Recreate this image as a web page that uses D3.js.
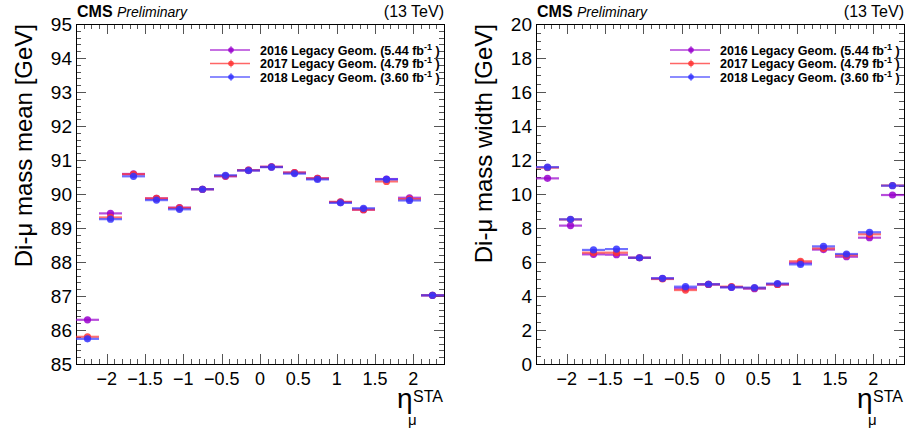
<!DOCTYPE html>
<html><head><meta charset="utf-8">
<script src="https://cdn.jsdelivr.net/npm/d3@7"></script>
<style>body{margin:0;background:#fff}svg{font-family:"Liberation Sans",Arial,sans-serif}</style>
</head><body><svg id="c" width="908" height="428"></svg>
<script>
const etaCenters = [-2.25,-1.95,-1.65,-1.35,-1.05,-0.75,-0.45,-0.15,0.15,0.45,0.75,1.05,1.35,1.65,1.95,2.25];
const binHalfWidth = 0.15;
const seriesNames = ["2016 Legacy Geom. (5.44 fb", "2017 Legacy Geom. (4.79 fb", "2018 Legacy Geom. (3.60 fb"];
const seriesColors = ["#9900cc", "#ff3333", "#3333ff"];
const mean2016 = [86.30,89.43,90.59,89.87,89.60,90.14,90.52,90.70,90.80,90.63,90.46,89.76,89.54,90.44,89.89,87.02];
const mean2017 = [85.80,89.31,90.58,89.87,89.59,90.14,90.53,90.70,90.80,90.63,90.46,89.77,89.54,90.37,89.85,87.02];
const mean2018 = [85.74,89.26,90.52,89.82,89.55,90.14,90.55,90.69,90.79,90.60,90.43,89.74,89.58,90.43,89.81,87.02];
const width2016 = [10.92,8.14,6.45,6.43,6.25,5.03,4.45,4.68,4.52,4.43,4.68,5.95,6.73,6.31,7.43,9.94];
const width2017 = [11.55,8.50,6.55,6.55,6.25,5.00,4.35,4.68,4.55,4.47,4.68,6.04,6.80,6.40,7.63,10.50];
const width2018 = [11.58,8.51,6.71,6.76,6.25,5.04,4.55,4.69,4.51,4.49,4.73,5.86,6.92,6.47,7.75,10.49];
const xTickLabels = [-2,-1.5,-1,-0.5,0,0.5,1,1.5,2];
const meanTicks = [85,86,87,88,89,90,91,92,93,94,95];
const widthTicks = [0,2,4,6,8,10,12,14,16,18,20];

const svg = d3.select("#c");

function panel(opt){
  const g = svg.append("g");
  const L = opt.left, R = opt.left + 368, T = 24, B = 364;
  const x = d3.scaleLinear().domain([-2.4,2.4]).range([L,R]);
  const y = d3.scaleLinear().domain(opt.ydom).range([B,T]);
  // ticks
  const tk = g.append("g").attr("stroke","#555").attr("stroke-width",1);
  const xMinor = d3.range(-24,25).map(v=>v/10);
  xMinor.forEach(v=>{
    const major = xTickLabels.includes(v);
    const len = major ? 10 : 5;
    const px = Math.round(x(v))+0.5;
    tk.append("line").attr("x1",px).attr("x2",px).attr("y1",B).attr("y2",B-len);
    tk.append("line").attr("x1",px).attr("x2",px).attr("y1",T).attr("y2",T+len);
  });
  const yMinor = d3.range(opt.ydom[0], opt.ydom[1]+1e-9, opt.minorStep);
  yMinor.forEach(v=>{
    const major = opt.yticks.some(t=>Math.abs(t-v)<1e-6);
    const len = major ? 10 : 5;
    const py = Math.round(y(v))+0.5;
    tk.append("line").attr("x1",L).attr("x2",L+len).attr("y1",py).attr("y2",py);
    tk.append("line").attr("x1",R).attr("x2",R-len).attr("y1",py).attr("y2",py);
  });
  g.append("rect").attr("x",L+0.5).attr("y",T+0.5).attr("width",R-L).attr("height",B-T)
    .attr("fill","none").attr("stroke","#000").attr("stroke-width",1);
  // tick labels
  const fmt = d3.format("");
  g.selectAll(".xl").data(xTickLabels).enter().append("text")
    .attr("x",d=>x(d)).attr("y",385).attr("text-anchor","middle")
    .attr("font-size",18).text(d=>fmt(d));
  g.selectAll(".yl").data(opt.yticks).enter().append("text")
    .attr("x",L-4).attr("y",d=>y(d)).attr("dy","0.36em").attr("text-anchor","end")
    .attr("font-size",19).text(d=>fmt(d));
  // axis titles
  g.append("text").attr("transform",`translate(${L-44},${T}) rotate(-90)`)
    .attr("text-anchor","end").attr("font-size",24).text(opt.ytitle);
  g.append("text").attr("x",L+321).attr("y",408).attr("font-size",28).text("η");
  g.append("text").attr("x",L+337).attr("y",402).attr("font-size",16).text("STA");
  g.append("text").attr("x",L+332).attr("y",425).attr("font-size",15).text("μ");
  // header
  g.append("text").attr("x",L+1).attr("y",17).attr("font-size",16).attr("font-weight","bold").text("CMS");
  g.append("text").attr("x",L+41).attr("y",17).attr("font-size",14).attr("font-style","italic").text("Preliminary");
  g.append("text").attr("x",R).attr("y",17).attr("font-size",16).attr("text-anchor","end").text("(13 TeV)");
  // data
  opt.series.forEach((vals,si)=>{
    const c = seriesColors[si];
    const sg = g.append("g");
    sg.selectAll("line").data(vals).enter().append("line")
      .attr("x1",(d,i)=>x(etaCenters[i]-binHalfWidth)).attr("x2",(d,i)=>x(etaCenters[i]+binHalfWidth))
      .attr("y1",d=>y(d)).attr("y2",d=>y(d))
      .attr("stroke",c).attr("stroke-width",2.2).attr("stroke-opacity",0.7);
    sg.selectAll("circle").data(vals).enter().append("circle")
      .attr("cx",(d,i)=>x(etaCenters[i])).attr("cy",d=>y(d)).attr("r",3.6)
      .attr("fill",c).attr("fill-opacity",0.85);
  });
  // legend
  const ly = [50,63.5,77];
  seriesNames.forEach((n,si)=>{
    const c = seriesColors[si];
    g.append("line").attr("x1",L+134).attr("x2",L+174).attr("y1",ly[si]).attr("y2",ly[si])
      .attr("stroke",c).attr("stroke-width",1.5).attr("stroke-opacity",0.75);
    g.append("line").attr("x1",L+155).attr("x2",L+155).attr("y1",ly[si]-4).attr("y2",ly[si]+4)
      .attr("stroke",c).attr("stroke-width",1).attr("stroke-opacity",0.75);
    g.append("circle").attr("cx",L+155).attr("cy",ly[si]).attr("r",2.8).attr("fill",c).attr("fill-opacity",0.85);
    const t = g.append("text").attr("x",L+184).attr("y",ly[si]+4.5).attr("font-size",12.5).attr("font-weight","bold");
    t.append("tspan").text(n);
    t.append("tspan").attr("dy",-5).attr("font-size",9).text("-1");
    t.append("tspan").attr("dy",5).text(" )");
  });
}

panel({left:76, ydom:[85,95], yticks:meanTicks, minorStep:0.2, ytitle:"Di-μ mass mean [GeV]",
  series:[mean2016,mean2017,mean2018]});
panel({left:536, ydom:[0,20], yticks:widthTicks, minorStep:0.5, ytitle:"Di-μ mass width [GeV]",
  series:[width2016,width2017,width2018]});
</script></body></html>
